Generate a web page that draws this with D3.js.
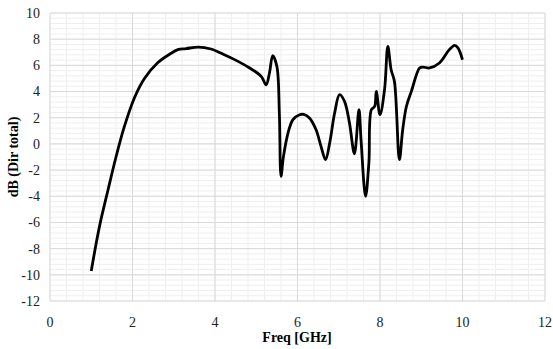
<!DOCTYPE html>
<html lang="en">
<head>
<meta charset="UTF-8">
<title>Dir total</title>
<style>
    body, html { margin: 0; background: #fff; overflow: hidden; }
</style>
</head>
<body>
<script src="https://d3js.org/d3.v7.min.js"></script>
<script>
    // Frequency in GHz and total directivity in dB
    const freq = [1, 1.2, 1.4, 1.6, 1.8, 2.05, 2.29, 2.61, 2.9, 3.1, 3.3, 3.6, 3.9, 4.2, 4.5,
        4.84, 5.12, 5.24, 5.32, 5.4, 5.5, 5.56, 5.6, 5.66, 5.77, 5.89, 6.05, 6.15, 6.29,
        6.45, 6.57, 6.68, 6.78, 6.9, 7.02, 7.14, 7.26, 7.38, 7.49, 7.54, 7.65, 7.73,
        7.79, 7.87, 7.91, 8.0, 8.11, 8.19, 8.27, 8.35, 8.47, 8.55, 8.64, 8.76, 8.96,
        9.04, 9.2, 9.44, 9.68, 9.81, 9.89, 10];
    const dirTotal = [-9.7, -6.3, -3.6, -1.0, 1.3, 3.55, 5.0, 6.2, 6.85, 7.2, 7.28, 7.4, 7.25, 6.85, 6.4,
        5.8, 5.16, 4.52, 5.42, 6.74, 5.92, 2.36, -2.48, -0.95, 0.83, 1.85, 2.23, 2.25, 1.98,
        1.08, -0.19, -1.2, 0.07, 2.36, 3.76, 3.25, 1.6, -0.75, 2.61, 0.32, -4.01, -1.46,
        2.61, 2.86, 4.01, 2.23, 4.14, 7.45, 5.67, 4.77, -1.2, 1.08, 2.86, 4.01, 5.8,
        5.87, 5.8, 6.18, 7.2, 7.53, 7.33, 6.43];

    const xTicks = [0, 2, 4, 6, 8, 10, 12];
    const yTicks = [-12, -10, -8, -6, -4, -2, 0, 2, 4, 6, 8, 10];

    const width = 553, height = 349;
    const margin = {top: 13, right: 8, bottom: 48, left: 50};
    const serif = "'Liberation Serif', 'Times New Roman', serif";

    const svg = d3.select("body").append("svg")
        .attr("width", width)
        .attr("height", height)
        .attr("font-family", serif);

    const x = d3.scaleLinear().domain([0, 12]).range([margin.left, width - margin.right]);
    const y = d3.scaleLinear().domain([-12, 10]).range([height - margin.bottom, margin.top]);

    // minor grid every 0.4
    svg.append("g").selectAll("line")
        .data(d3.range(0, 31).map(i => i * 0.4).filter(d => d <= 12.01))
        .join("line")
        .attr("x1", d => x(d)).attr("x2", d => x(d))
        .attr("y1", y(-12)).attr("y2", y(10))
        .attr("stroke", "#efefef");
    svg.append("g").selectAll("line")
        .data(d3.range(0, 56).map(i => -12 + i * 0.4).filter(d => d <= 10.01))
        .join("line")
        .attr("x1", x(0)).attr("x2", x(12))
        .attr("y1", d => y(d)).attr("y2", d => y(d))
        .attr("stroke", "#efefef");

    // major grid
    svg.append("g").selectAll("line")
        .data(xTicks)
        .join("line")
        .attr("x1", d => x(d)).attr("x2", d => x(d))
        .attr("y1", y(-12)).attr("y2", y(10))
        .attr("stroke", "#d9d9d9");
    svg.append("g").selectAll("line")
        .data(yTicks)
        .join("line")
        .attr("x1", x(0)).attr("x2", x(12))
        .attr("y1", d => y(d)).attr("y2", d => y(d))
        .attr("stroke", "#d9d9d9");

    // tick labels
    svg.append("g").selectAll("text")
        .data(yTicks)
        .join("text")
        .attr("x", 40)
        .attr("y", d => y(d))
        .attr("dy", "0.35em")
        .attr("text-anchor", "end")
        .attr("font-size", 14)
        .attr("fill", "#222")
        .text(d => d);
    svg.append("g").selectAll("text")
        .data(xTicks)
        .join("text")
        .attr("x", d => x(d))
        .attr("y", 327)
        .attr("text-anchor", "middle")
        .attr("font-size", 14)
        .attr("fill", "#222")
        .text(d => d);

    // axis titles
    svg.append("text")
        .attr("x", 297).attr("y", 342)
        .attr("text-anchor", "middle")
        .attr("font-size", 14)
        .attr("font-weight", "bold")
        .text("Freq [GHz]");
    svg.append("text")
        .attr("transform", `translate(18, ${(y(-12) + y(10)) / 2}) rotate(-90)`)
        .attr("text-anchor", "middle")
        .attr("font-size", 14)
        .attr("font-weight", "bold")
        .text("dB (Dir total)");

    // the curve
    const line = d3.line()
        .x((d, i) => x(freq[i]))
        .y(d => y(d))
        .curve(d3.curveCatmullRom.alpha(0.5));

    svg.append("path")
        .datum(dirTotal)
        .attr("fill", "none")
        .attr("stroke", "#000")
        .attr("stroke-width", 2.8)
        .attr("stroke-linejoin", "round")
        .attr("d", line);
</script>
</body>
</html>
